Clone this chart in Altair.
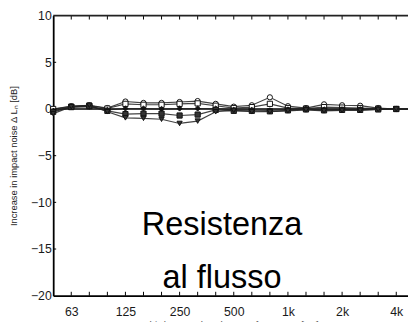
import altair as alt
import pandas as pd

bands = ["50", "63", "80", "100", "125", "160", "200", "250", "315", "400", "500",
         "630", "800", "1k", "1.25k", "1.6k", "2k", "2.5k", "3.15k", "4k", "5k"]
tick_idx = [1, 4, 7, 10, 13, 16, 19]
tick_labels = ["63", "125", "250", "500", "1k", "2k", "4k"]
y_ticks = [10, 5, 0, -5, -10, -15, -20]

series_a = [0.0, 0.3, 0.4, 0.1, 0.8, 0.65, 0.65, 0.75, 0.85, 0.55, 0.25, 0.4, 1.25, 0.3, 0.1, 0.5, 0.4, 0.35, 0.1, 0.0, 0.0]
series_b = [0.0, 0.25, 0.35, 0.05, 0.55, 0.45, 0.45, 0.55, 0.6, 0.35, 0.1, 0.2, 0.55, 0.1, 0.05, 0.2, 0.15, 0.1, 0.05, 0.0, 0.0]
series_c = [-0.2, 0.2, 0.25, -0.1, 0.05, 0.05, 0.0, 0.05, 0.05, 0.05, -0.1, -0.1, -0.15, -0.05, 0.0, -0.05, -0.05, -0.05, 0.0, 0.0, 0.0]
series_d = [-0.3, 0.2, 0.3, -0.2, -0.55, -0.5, -0.5, -0.7, -0.6, -0.1, -0.2, -0.2, -0.25, -0.15, -0.05, -0.15, -0.1, -0.1, -0.05, 0.0, 0.0]
series_e = [-0.5, 0.25, 0.4, -0.3, -0.95, -1.0, -1.1, -1.55, -1.3, -0.3, -0.15, -0.3, -0.3, -0.2, -0.1, -0.2, -0.15, -0.15, -0.05, 0.0, 0.0]

series = [("A", series_a, "circle", "white"),
          ("B", series_b, "square", "white"),
          ("C", series_c, "diamond", "#111"),
          ("D", series_d, "square", "#333"),
          ("E", series_e, "triangle-down", "#333")]

W, H = 361, 285
FONT = "Liberation Sans"

xscale = alt.Scale(domain=[0, 19.65], nice=False, zero=False)
yscale = alt.Scale(domain=[-20, 10], nice=False, zero=False)

label_expr = " : ".join(f"datum.value == {i} ? '{l}'" for i, l in zip(tick_idx, tick_labels)) + " : ''"

layers = []

# zero line
zero_df = pd.DataFrame({"y": [0]})
layers.append(alt.Chart(zero_df).mark_rule(color="black", strokeWidth=1.5).encode(
    y=alt.Y("y:Q", scale=yscale,
            axis=alt.Axis(values=y_ticks, ticks=False, grid=False, domain=True, domainColor="black",
                          domainWidth=1.8, labelFont=FONT, labelFontSize=12.5, labelColor="#1a1a1a",
                          labelPadding=2,
                          title="Increase in impact noise \u0394 L\u2099 [dB]", titleFont=FONT,
                          titleFontSize=9.5, titleFontWeight="normal", titleColor="#222",
                          titlePadding=12)),
    x=alt.value(0), x2=alt.value(W)))

for name, vals, shape, fill in series:
    df = pd.DataFrame({"i": list(range(len(vals))), "v": vals})
    base = alt.Chart(df)
    layers.append(base.mark_line(color="#222", strokeWidth=1.2, opacity=0.85, clip=True).encode(
        x=alt.X("i:Q", scale=xscale,
                axis=alt.Axis(values=tick_idx, labelExpr=label_expr, ticks=False, grid=False,
                              domain=True, domainColor="black", domainWidth=1.8,
                              labelFont=FONT, labelFontSize=12.5, labelColor="#1a1a1a", labelPadding=10,
                              title="Third-octave band centre frequency [Hz]", titleFont=FONT,
                              titleFontSize=10, titleFontWeight="normal", titleColor="#555",
                              titlePadding=2)),
        y=alt.Y("v:Q", scale=yscale)))
    layers.append(base.mark_point(shape=shape, filled=True, fill=fill, stroke="#111",
                                  strokeWidth=1, size=28, opacity=1).encode(
        x=alt.X("i:Q", scale=xscale),
        y=alt.Y("v:Q", scale=yscale)))

# inward ticks on top and bottom
tick_df = pd.DataFrame({"i": list(range(1, 20))})
layers.append(alt.Chart(tick_df).mark_rule(color="black", strokeWidth=1).encode(
    x=alt.X("i:Q", scale=xscale), y=alt.value(0), y2=alt.value(4)))
layers.append(alt.Chart(tick_df).mark_rule(color="black", strokeWidth=1).encode(
    x=alt.X("i:Q", scale=xscale), y=alt.value(H), y2=alt.value(H - 4)))
# inward ticks on left
ytick_df = pd.DataFrame({"y": y_ticks[1:-1]})
layers.append(alt.Chart(ytick_df).mark_rule(color="black", strokeWidth=1).encode(
    y=alt.Y("y:Q", scale=yscale), x=alt.value(0), x2=alt.value(3)))
# top border
layers.append(alt.Chart(zero_df).mark_rule(color="#222", strokeWidth=2).encode(
    x=alt.value(0), x2=alt.value(W), y=alt.value(0)))

# annotation
ann_text = ["Resistenza", "al flusso"]
ann_x = [9.35, 9.35]
ann_y = [-13.5, -19.15]
ann_df = pd.DataFrame({"t": ann_text, "x": ann_x, "y": ann_y})
layers.append(alt.Chart(ann_df).mark_text(font=FONT, fontSize=33, color="black",
                                          align="center", baseline="alphabetic").encode(
    x=alt.X("x:Q", scale=xscale), y=alt.Y("y:Q", scale=yscale), text="t:N"))

chart = alt.layer(*layers).properties(
    width=W, height=H,
    autosize=alt.AutoSizeParams(type="none"),
    padding={"left": 46, "top": 5, "right": 0, "bottom": 24},
    background="white",
).configure_view(strokeWidth=0)

chart.save("out.html", embed_options={"renderer": "svg", "actions": False})
